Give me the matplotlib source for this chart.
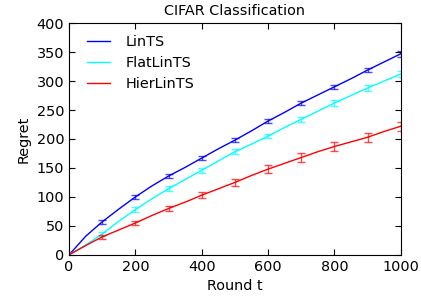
import numpy as np
import matplotlib
matplotlib.use("Agg")
import matplotlib.pyplot as plt

# regret curves
rounds = [0, 50, 100, 150, 200, 250, 300, 350, 400, 450, 500, 550, 600, 650, 700, 750, 800, 850, 900, 950, 1000]
lints = [0, 32, 57, 79, 100, 119, 136, 151, 167, 183, 198, 214, 231, 246, 262, 276, 290, 304, 319, 333, 347]
flat = [0, 17, 36, 58, 78, 97, 114, 130, 146, 162, 178, 191, 205, 220, 234, 248, 262, 275, 288, 300, 312]
hier = [0, 16, 31, 43, 55, 68, 80, 91, 103, 114, 125, 137, 148, 158, 168, 178, 187, 195, 203, 213, 222]

err_rounds = [100, 200, 300, 400, 500, 600, 700, 800, 900, 1000]
lints_err = [3, 3, 4, 4, 4, 4, 4, 4, 4, 5]
flat_err = [3, 4, 4, 4, 4, 4, 4, 5, 5, 5]
hier_err = [3, 4, 5, 5, 6, 7, 7, 7, 8, 8]

plt.rcParams['font.family'] = 'DejaVu Sans'
plt.rcParams['font.size'] = 10.4
plt.rcParams['xtick.direction'] = 'in'
plt.rcParams['ytick.direction'] = 'in'

fig = plt.figure(figsize=(4.21, 2.96), dpi=100)
ax = fig.add_axes([0.164, 0.139, 0.788, 0.783])

series = [("LinTS", lints, lints_err, "blue"),
          ("FlatLinTS", flat, flat_err, "cyan"),
          ("HierLinTS", hier, hier_err, "red")]
for name, vals, errs, col in series:
    ax.plot(rounds, vals, color=col, lw=1, label=name)
    mid = [vals[rounds.index(r)] for r in err_rounds]
    ax.errorbar(err_rounds, mid, yerr=errs, fmt='none', ecolor=col, elinewidth=1,
                capsize=3, capthick=1, alpha=0.7)

ax.set_xlim(0, 1000)
ax.set_ylim(0, 400)
ax.set_xticks([0, 200, 400, 600, 800, 1000])
ax.set_yticks(range(0, 401, 50))
ax.tick_params(top=True, right=True, length=4, width=0.8)
ax.set_xlabel("Round t")
ax.set_ylabel("Regret")
ax.set_title("CIFAR Classification", fontsize=10.4)
ax.legend(loc="upper left", bbox_to_anchor=(0.015, 1.005), frameon=False,
          handlelength=1.6, handletextpad=1.1, borderaxespad=0.5, labelspacing=0.5)

fig.savefig("out.png", dpi=100)
